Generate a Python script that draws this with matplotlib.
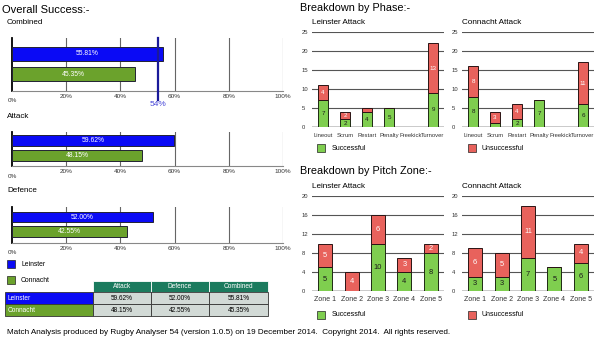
import matplotlib
matplotlib.use('Agg')
import matplotlib.pyplot as plt
from matplotlib.patches import Rectangle

plt.rcParams['font.family'] = ['Liberation Sans', 'DejaVu Sans']

# overall success (%)
teams = ['Leinster', 'Connacht']
overall_groups = ['Combined', 'Attack', 'Defence']
leinster_pct = [55.81, 59.62, 52.00]
connacht_pct = [45.35, 48.15, 42.55]
target_pct = 54
pct_ticks = [0, 20, 40, 60, 80, 100]

# table (Attack, Defence, Combined)
table_cols = ['Attack', 'Defence', 'Combined']
table_leinster = ['59.62%', '52.00%', '55.81%']
table_connacht = ['48.15%', '42.55%', '45.35%']

# breakdown by phase
phases = ['Lineout', 'Scrum', 'Restart', 'Penalty', 'Freekick', 'Turnover']
lein_phase_ok = [7, 2, 4, 5, 0, 9]
lein_phase_bad = [4, 2, 1, 0, 0, 13]
conn_phase_ok = [8, 1, 2, 7, 0, 6]
conn_phase_bad = [8, 3, 4, 0, 0, 11]

# breakdown by pitch zone
zones = ['Zone 1', 'Zone 2', 'Zone 3', 'Zone 4', 'Zone 5']
lein_zone_ok = [5, 0, 10, 4, 8]
lein_zone_bad = [5, 4, 6, 3, 2]
conn_zone_ok = [3, 3, 7, 5, 6]
conn_zone_bad = [6, 5, 11, 0, 4]

BLUE = '#0a0af5'
LGREEN = '#6ba22c'
GREEN = '#7fce4f'
RED = '#e8625c'
TEAL = '#1b7b5e'
CELL = '#d2dad6'

W, H = 600, 357
fig = plt.figure(figsize=(6, 3.57), dpi=100)


def box(x0, y0, x1, y1):
    return [x0 / W, 1 - y1 / H, (x1 - x0) / W, (y1 - y0) / H]


# overlay for free text / legends / table in pixel coords
ov = fig.add_axes([0, 0, 1, 1], zorder=-1)
ov.set_xlim(0, W)
ov.set_ylim(H, 0)
ov.axis('off')


def overall(rect, idx, ylim, bh, target=None):
    ax = fig.add_axes(box(*rect))
    vals = [leinster_pct[idx], connacht_pct[idx]]
    cols = [BLUE, LGREEN]
    for i in range(2):
        ax.barh(i, vals[i], height=bh, color=cols[i], edgecolor='#223', lw=0.7, zorder=3)
        ax.text(vals[i] / 2, i, '%.2f%%' % vals[i], color='white', fontsize=4.9,
                ha='center', va='center', zorder=4)
    ax.set_xlim(0, 100)
    ax.set_ylim(*ylim)
    for t in pct_ticks[1:]:
        ax.axvline(t, color='#666', lw=0.8, zorder=1)
    for s in ['top', 'right']:
        ax.spines[s].set_visible(False)
    ax.spines['left'].set_linewidth(1.3)
    ax.spines['bottom'].set_color('#888')
    ax.spines['bottom'].set_linewidth(0.8)
    ax.set_xticks([])
    ax.set_yticks([])
    for t in pct_ticks:
        off = -7.2 if t == 0 else -3.8
        ax.annotate('%d%%' % t, (t, 0), xycoords=('data', 'axes fraction'),
                    xytext=(0, off), textcoords='offset points',
                    ha='center', va='center', fontsize=4.6, color='#333')
    if target is not None:
        ax.plot([target, target], [1, -0.17], transform=ax.get_xaxis_transform(),
                color='#1a1a9a', lw=1.6, clip_on=False, zorder=5)
        ax.annotate('%d%%' % target, (target, 0), xycoords=('data', 'axes fraction'),
                    xytext=(0, -9.5), textcoords='offset points',
                    ha='center', va='center', fontsize=6, color='#4848d8')
    ov.text(7, rect[1] - 16, overall_groups[idx], fontsize=5.8, va='center', ha='left')


ov.text(2, 10, 'Overall Success:-', fontsize=8, va='center')
overall((12, 38, 283, 91), 0, (1.83, -0.78), 0.7, target_pct)
overall((12, 132, 283, 166), 1, (1.76, -0.59), 0.76)
overall((12, 207, 283, 243), 2, (1.79, -0.69), 0.73)

# left legend
for y, c, name in [(260, BLUE, teams[0]), (276, LGREEN, teams[1])]:
    ov.add_patch(Rectangle((7, y), 8, 8, facecolor=c, edgecolor='#222', lw=0.5))
    ov.text(21, y + 4, name, fontsize=4.9, va='center')

# table
cx = [93, 151, 209, 268]
for j, name in enumerate(table_cols):
    ov.add_patch(Rectangle((cx[j], 281), cx[j + 1] - cx[j], 11, facecolor=TEAL,
                           edgecolor='white', lw=0.6))
    ov.text((cx[j] + cx[j + 1]) / 2, 286.5, name, color='white', fontsize=4.7,
            ha='center', va='center')
rows = [(teams[0], BLUE, table_leinster), (teams[1], LGREEN, table_connacht)]
for i, (name, c, vals) in enumerate(rows):
    y = 292 + i * 12
    ov.add_patch(Rectangle((5, y), 88, 12, facecolor=c, edgecolor='#333', lw=0.6))
    ov.text(8, y + 6, name, color='white', fontsize=4.7, va='center')
    for j, v in enumerate(vals):
        ov.add_patch(Rectangle((cx[j], y), cx[j + 1] - cx[j], 12, facecolor=CELL,
                               edgecolor='#333', lw=0.6))
        ov.text((cx[j] + cx[j + 1]) / 2, y + 6, v, fontsize=4.7, ha='center', va='center')


def stacked(rect, cats, ok, bad, width, ymax, ystep, cat_fs, lbl_fs, cat_pad, title):
    ax = fig.add_axes(box(*rect))
    x = list(range(len(cats)))
    ax.bar(x, ok, width, color=GREEN, edgecolor='#1e2a14', lw=0.7, zorder=3)
    ax.bar(x, bad, width, bottom=ok, color=RED, edgecolor='#2a1414', lw=0.7, zorder=3)
    for i in x:
        if ok[i] > 1:
            ax.text(i, ok[i] / 2, str(ok[i]), ha='center', va='center',
                    fontsize=lbl_fs, color='#1a1a1a', zorder=4)
        if bad[i] > 1:
            ax.text(i, ok[i] + bad[i] / 2, str(bad[i]), ha='center', va='center',
                    fontsize=lbl_fs, color='white', zorder=4)
    ax.set_xlim(-0.5, len(cats) - 0.5)
    ax.set_ylim(0, ymax)
    ticks = list(range(0, ymax + 1, ystep))
    ax.set_yticks(ticks)
    ax.yaxis.grid(True, color='#555', lw=0.8)
    ax.set_axisbelow(True)
    for s in ax.spines.values():
        s.set_visible(False)
    ax.axhline(0, color='#222', lw=1.0, zorder=2)
    ax.set_xticks(x)
    ax.set_xticklabels(cats, fontsize=cat_fs, color='#333')
    ax.tick_params(axis='x', length=0, pad=cat_pad)
    ax.tick_params(axis='y', length=0, pad=7.2, labelsize=4.2, labelcolor='#333')
    plt.setp(ax.get_yticklabels(), ha='left')
    ov.text(rect[0], rect[1] - 10, title, fontsize=5.9, va='center')
    return ax


ov.text(300, 8, 'Breakdown by Phase:-', fontsize=7.8, va='center')
stacked((312, 32, 444, 127), phases, lein_phase_ok, lein_phase_bad, 0.45, 25, 5,
        4.2, 4.5, 4.6, 'Leinster Attack')
stacked((462, 32, 594, 127), phases, conn_phase_ok, conn_phase_bad, 0.45, 25, 5,
        4.2, 4.5, 4.6, 'Connacht Attack')

ov.text(300, 171, 'Breakdown by Pitch Zone:-', fontsize=7.8, va='center')
stacked((312, 196, 444, 291), zones, lein_zone_ok, lein_zone_bad, 0.53, 20, 4,
        5.0, 5.4, 3.6, 'Leinster Attack')
stacked((462, 196, 594, 291), zones, conn_zone_ok, conn_zone_bad, 0.53, 20, 4,
        5.0, 5.4, 3.6, 'Connacht Attack')

# phase / zone legends
for y in (144, 311):
    ov.add_patch(Rectangle((317, y), 8, 8, facecolor=GREEN, edgecolor='#222', lw=0.5))
    ov.text(332, y + 4, 'Successful', fontsize=5, va='center')
    ov.add_patch(Rectangle((468, y), 8, 8, facecolor=RED, edgecolor='#222', lw=0.5))
    ov.text(482, y + 4, 'Unsuccessful', fontsize=5, va='center')

ov.text(7, 333, 'Match Analysis produced by Rugby Analyser 54 (version 1.0.5) on 19 December 2014.  '
        'Copyright 2014.  All rights reserved.', fontsize=5.9, va='center')

fig.savefig('out.png', dpi=100)
